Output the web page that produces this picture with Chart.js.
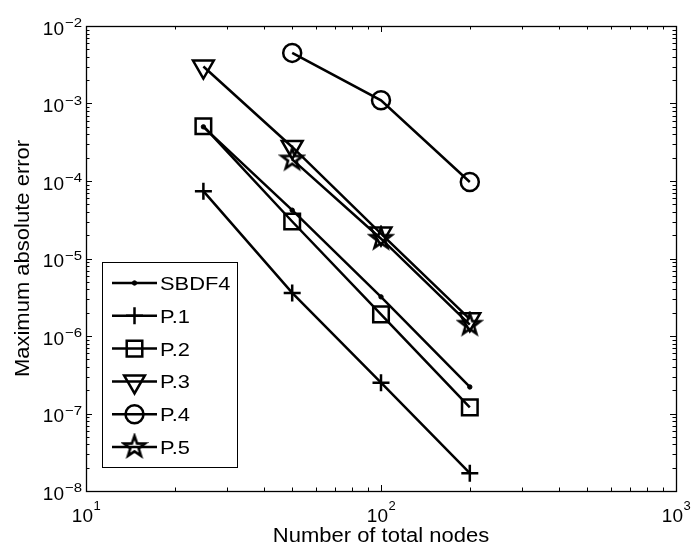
<!DOCTYPE html>
<html>
<head>
<meta charset="utf-8">
<script src="https://cdn.jsdelivr.net/npm/chart.js@4"></script>
<style>
  body { margin: 0; background: #fff; }
  canvas { display: block; }
</style>
</head>
<body>
<canvas id="errChart" width="693" height="547"></canvas>
<script>
// data (log-log)
const nodes = [25, 50, 100, 200];
const nodesP45 = [50, 100, 200];
const sbdf4 = [5.0e-4, 4.2e-5, 3.2e-6, 2.2e-7];
const p1 = [7.4e-5, 3.6e-6, 2.5e-7, 1.7e-8];
const p2 = [5.1e-4, 3.0e-5, 1.9e-6, 1.2e-7];
const p3 = [3.0e-3, 2.75e-4, 2.1e-5, 1.65e-6];
const p4 = [4.5e-3, 1.1e-3, 9.7e-5];
const p5 = [1.9e-4, 1.8e-5, 1.4e-6];
const seriesNames = ['SBDF4', 'P.1', 'P.2', 'P.3', 'P.4', 'P.5'];

const xTickExps = [1, 2, 3];
const yTickExps = [-8, -7, -6, -5, -4, -3, -2];
const xTitle = 'Number of total nodes';
const yTitle = 'Maximum absolute error';

function pairs(xs, ys) {
    return xs.map((x, i) => ({ x: x, y: ys[i] }));
}

function makeStar(r) {
    const c = document.createElement('canvas');
    const s = Math.ceil(2 * r + 6);
    c.width = s; c.height = s;
    const g = c.getContext('2d');
    g.lineWidth = 2.6;
    g.strokeStyle = '#000';
    g.lineJoin = 'miter';
    g.beginPath();
    for (let i = 0; i < 10; i++) {
        const a = -Math.PI / 2 + i * Math.PI / 5;
        const rr = i % 2 ? r * 0.4 : r;
        const px = s / 2 + rr * Math.cos(a), py = s / 2 + rr * Math.sin(a);
        if (i === 0) g.moveTo(px, py); else g.lineTo(px, py);
    }
    g.closePath();
    g.stroke();
    return c;
}
const starImg = makeStar(11);

function ds(label, data, style, radius, extra) {
    return Object.assign({
        label: label,
        data: data,
        borderColor: '#000',
        borderWidth: 2.5,
        backgroundColor: 'rgba(0,0,0,0)',
        pointStyle: style,
        pointRadius: radius,
        pointBorderColor: '#000',
        pointBorderWidth: 2.5,
        pointBackgroundColor: 'rgba(0,0,0,0)',
        tension: 0
    }, extra || {});
}

function drawText(ctx, txt, x, y, size, align, sx) {
    sx = sx || 1;
    ctx.save();
    ctx.font = size + 'px "Liberation Sans", Arial, sans-serif';
    const w = ctx.measureText(txt).width * sx;
    let x0 = x;
    if (align === 'center') x0 = x - w / 2;
    else if (align === 'right') x0 = x - w;
    ctx.translate(x0, y);
    ctx.scale(sx, 1);
    ctx.textAlign = 'left';
    ctx.textBaseline = 'alphabetic';
    ctx.fillStyle = '#000';
    ctx.fillText(txt, 0, 0);
    ctx.restore();
    return w;
}

function textW(ctx, txt, size) {
    ctx.save();
    ctx.font = size + 'px "Liberation Sans", Arial, sans-serif';
    const w = ctx.measureText(txt).width;
    ctx.restore();
    return w;
}

function supExp(e) {
    return e < 0 ? '\u2212' + Math.abs(e) : String(e);
}

// MATLAB style box, inside ticks, tick labels and axis titles
const axesPlugin = {
    id: 'matlabAxes',
    afterDatasetsDraw(chart) {
        const ctx = chart.ctx;
        const a = chart.chartArea;
        const xs = chart.scales.x, ys = chart.scales.y;
        ctx.save();
        ctx.strokeStyle = '#000';
        ctx.lineWidth = 1;
        ctx.beginPath();
        // x ticks
        for (let e = xTickExps[0]; e <= xTickExps[xTickExps.length - 1]; e++) {
            for (let k = 1; k <= 9; k++) {
                const v = k * Math.pow(10, e);
                if (v > xs.max * 1.0001) break;
                const px = Math.round(xs.getPixelForValue(v)) + 0.5;
                const len = k === 1 ? 6 : 3.5;
                ctx.moveTo(px, a.bottom); ctx.lineTo(px, a.bottom - len);
                ctx.moveTo(px, a.top); ctx.lineTo(px, a.top + len);
            }
        }
        // y ticks
        for (let e = yTickExps[0]; e <= yTickExps[yTickExps.length - 1]; e++) {
            for (let k = 1; k <= 9; k++) {
                const v = k * Math.pow(10, e);
                if (v > ys.max * 1.0001) break;
                const py = Math.round(ys.getPixelForValue(v)) + 0.5;
                const len = k === 1 ? 6 : 3.5;
                ctx.moveTo(a.left, py); ctx.lineTo(a.left + len, py);
                ctx.moveTo(a.right, py); ctx.lineTo(a.right - len, py);
            }
        }
        ctx.stroke();
        ctx.lineWidth = 1.3;
        ctx.strokeRect(Math.round(a.left) + 0.5, Math.round(a.top) + 0.5,
            Math.round(a.right - a.left), Math.round(a.bottom - a.top));

        // x tick labels
        xTickExps.forEach(e => {
            const px = xs.getPixelForValue(Math.pow(10, e));
            const w10 = textW(ctx, '10', 19);
            const we = textW(ctx, supExp(e), 13);
            const x0 = px - (w10 + we) / 2;
            drawText(ctx, '10', x0, a.bottom + 31, 19, 'left');
            drawText(ctx, supExp(e), x0 + w10 + 0.5, a.bottom + 19, 13, 'left');
        });
        // y tick labels
        yTickExps.forEach(e => {
            const py = ys.getPixelForValue(Math.pow(10, e));
            const we = drawText(ctx, supExp(e), a.left - 4, py + 1, 13, 'right', 1.15);
            drawText(ctx, '10', a.left - 5 - we, py + 8.5, 19, 'right');
        });
        // axis titles
        drawText(ctx, xTitle, (a.left + a.right) / 2, a.bottom + 51, 20, 'center', 1.1);
        ctx.save();
        ctx.translate(29, (a.top + a.bottom) / 2);
        ctx.rotate(-Math.PI / 2);
        drawText(ctx, yTitle, 0, 0, 20, 'center', 1.1);
        ctx.restore();
        ctx.restore();
    }
};

// legend box in the lower left corner of the axes
const legendPlugin = {
    id: 'matlabLegend',
    afterDraw(chart) {
        const ctx = chart.ctx;
        const a = chart.chartArea;
        const bx = a.left + 16, by = a.bottom - 229, bw = 135, bh = 205;
        ctx.save();
        ctx.fillStyle = '#fff';
        ctx.fillRect(bx, by, bw, bh);
        ctx.strokeStyle = '#000';
        ctx.lineWidth = 1;
        ctx.strokeRect(bx + 0.5, by + 0.5, bw, bh);
        chart.data.datasets.forEach((d, i) => {
            const ry = by + 21 + i * 32.8;
            ctx.strokeStyle = '#000';
            ctx.lineWidth = 2.5;
            ctx.beginPath();
            ctx.moveTo(bx + 10, ry);
            ctx.lineTo(bx + 55, ry);
            ctx.stroke();
            ctx.fillStyle = d.pointBackgroundColor;
            ctx.lineWidth = d.pointBorderWidth;
            Chart.helpers.drawPoint(ctx, {
                pointStyle: d.pointStyle,
                rotation: d.pointRotation || 0,
                radius: d.pointRadius,
                borderWidth: d.pointBorderWidth
            }, bx + 32.5, ry);
            drawText(ctx, seriesNames[i], bx + 58, ry + 7, 19, 'left', 1.15);
        });
        ctx.restore();
    }
};

new Chart(document.getElementById('errChart'), {
    type: 'line',
    data: {
        datasets: [
            ds(seriesNames[0], pairs(nodes, sbdf4), 'circle', 2.2, { pointBackgroundColor: '#000', pointBorderWidth: 1 }),
            ds(seriesNames[1], pairs(nodes, p1), 'cross', 8.5),
            ds(seriesNames[2], pairs(nodes, p2), 'rect', 11),
            ds(seriesNames[3], pairs(nodes, p3), 'triangle', 12, { pointRotation: 180 }),
            ds(seriesNames[4], pairs(nodesP45, p4), 'circle', 9),
            ds(seriesNames[5], pairs(nodesP45, p5), starImg, 11)
        ]
    },
    options: {
        responsive: false,
        animation: false,
        devicePixelRatio: 1,
        layout: {
            padding: { left: 86, right: 17, top: 26, bottom: 56 }
        },
        plugins: {
            legend: { display: false },
            tooltip: { enabled: false }
        },
        scales: {
            x: {
                type: 'logarithmic',
                min: 10,
                max: 1000,
                display: false
            },
            y: {
                type: 'logarithmic',
                min: 1e-8,
                max: 1e-2,
                display: false
            }
        }
    },
    plugins: [axesPlugin, legendPlugin]
});
</script>
</body>
</html>
